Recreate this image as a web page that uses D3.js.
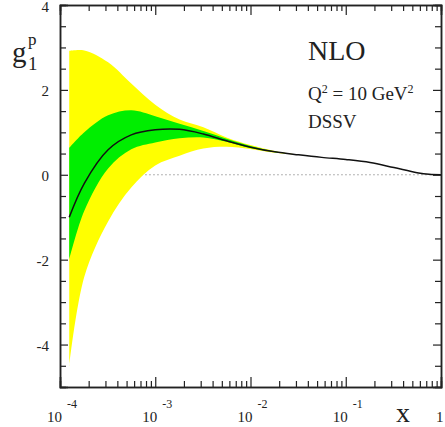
<!DOCTYPE html>
<html>
<head>
<meta charset="utf-8">
<script src="https://cdn.jsdelivr.net/npm/d3@7"></script>
<style>
  body { margin: 0; background: #fff; }
  svg text { font-family: "Liberation Serif", "DejaVu Serif", serif; fill: #222; }
</style>
</head>
<body>
<svg id="chart"></svg>
<script>
const bandX   = [1.25e-4, 1.8e-4, 3.2e-4, 5.6e-4, 1e-3, 1.8e-3, 3.2e-3, 5.6e-3, 1e-2, 1.8e-2, 3.2e-2];
const yellowHi = [2.92, 2.93, 2.65, 2.15, 1.65, 1.30, 1.12, 0.88, 0.70, 0.56, 0.47];
const greenHi  = [0.63, 1.00, 1.40, 1.52, 1.38, 1.20, 1.03, 0.85, 0.68, 0.55, 0.47];
const greenLo  = [-2.00, -0.85, 0.15, 0.60, 0.76, 0.86, 0.88, 0.78, 0.63, 0.53, 0.47];
const yellowLo = [-4.50, -2.40, -1.10, -0.30, 0.22, 0.45, 0.62, 0.66, 0.61, 0.52, 0.47];

// central DSSV curve
const curveX = [1.25e-4, 1.8e-4, 3.2e-4, 5.6e-4, 1e-3, 1.8e-3, 3.2e-3, 5.6e-3, 1e-2, 1.8e-2, 3.2e-2, 5.6e-2, 0.1, 0.18, 0.32, 0.56, 0.75, 1];
const central = [-1.00, -0.20, 0.59, 0.94, 1.06, 1.07, 0.96, 0.80, 0.65, 0.54, 0.47, 0.41, 0.36, 0.29, 0.17, 0.05, 0.01, 0.0];

const yMajor = [-4, -2, 0, 2, 4];
const yMinor = [-4.5, -3.5, -3, -2.5, -1.5, -1, -0.5, 0.5, 1, 1.5, 2.5, 3, 3.5];
const xMajor = [1e-4, 1e-3, 1e-2, 1e-1, 1];
const xExp = ['-4', '-3', '-2', '-1', ''];

const W = 445, H = 427;
const margin = { top: 5, right: 4, bottom: 40, left: 60 };

const svg = d3.select('#chart').attr('width', W).attr('height', H);

const x = d3.scaleLog().domain([1e-4, 1]).range([margin.left, W - margin.right]);
const y = d3.scaleLinear().domain([-5, 4]).range([H - margin.bottom, margin.top]);

// minor x ticks 2..9 per decade
const xMinor = [];
for (let e = -4; e < 0; e++) for (let m = 2; m <= 9; m++) xMinor.push(m * Math.pow(10, e));

//zero line (dotted)
svg.append('line')
  .attr('x1', x(bandX[0])).attr('x2', x(1))
  .attr('y1', y(0)).attr('y2', y(0))
  .attr('stroke', '#999').attr('stroke-width', 1).attr('stroke-dasharray', '1.5,2.5');

// bands
const bandData = bandX.map((d, i) => ({ x: d, yl: yellowLo[i], yh: yellowHi[i], gl: greenLo[i], gh: greenHi[i] }));
const yellowArea = d3.area().x(d => x(d.x)).y0(d => y(d.yl)).y1(d => y(d.yh)).curve(d3.curveCatmullRom);
const greenArea = d3.area().x(d => x(d.x)).y0(d => y(d.gl)).y1(d => y(d.gh)).curve(d3.curveCatmullRom);
svg.append('path').attr('d', yellowArea(bandData)).attr('fill', '#ffff00');
svg.append('path').attr('d', greenArea(bandData)).attr('fill', '#00ee00');

// central line
const lineGen = d3.line().x(d => x(d[0])).y(d => y(d[1])).curve(d3.curveCatmullRom);
svg.append('path').attr('d', lineGen(curveX.map((d, i) => [d, central[i]])))
  .attr('fill', 'none').attr('stroke', '#111').attr('stroke-width', 1.5);

// axes - ticks all point inward
const xL = x.range()[0], xR = x.range()[1], yT = y.range()[1], yB = y.range()[0];

svg.append('g').attr('transform', `translate(${xL},0)`)
  .call(d3.axisLeft(y).tickValues(yMinor).tickSize(-6).tickFormat(''));
const ylMajor = svg.append('g').attr('transform', `translate(${xL},0)`)
  .call(d3.axisLeft(y).tickValues(yMajor).tickSize(-8).tickPadding(11).tickFormat(d => d));
ylMajor.selectAll('text').style('font-size', '15px').attr('dy', '0.4em');

svg.append('g').attr('transform', `translate(${xR},0)`)
  .call(d3.axisRight(y).tickValues(yMinor).tickSize(-6).tickFormat(''));
svg.append('g').attr('transform', `translate(${xR},0)`)
  .call(d3.axisRight(y).tickValues(yMajor).tickSize(-8).tickFormat(''));

svg.append('g').attr('transform', `translate(0,${yB})`)
  .call(d3.axisBottom(x).tickValues(xMinor).tickSize(-6).tickFormat(''));
svg.append('g').attr('transform', `translate(0,${yB})`)
  .call(d3.axisBottom(x).tickValues(xMajor).tickSize(-10).tickFormat(''));

svg.append('g').attr('transform', `translate(0,${yT})`)
  .call(d3.axisTop(x).tickValues(xMinor).tickSize(-6).tickFormat(''));
svg.append('g').attr('transform', `translate(0,${yT})`)
  .call(d3.axisTop(x).tickValues(xMajor).tickSize(-10).tickFormat(''));

svg.selectAll('.domain').attr('stroke', '#222').attr('stroke-width', 1.5);
svg.selectAll('.tick line').attr('stroke', '#222').attr('stroke-width', 1.2);

// x tick labels 10^n
xMajor.forEach((v, i) => {
  const t = svg.append('text').attr('y', 422).style('font-size', '15px');
  if (xExp[i] === '') {
    t.attr('x', x(v) - 5).text('1');
  } else {
    t.attr('x', x(v) - 13).text('10');
    t.append('tspan').attr('dx', 5).attr('dy', -14).style('font-size', '12px').text(xExp[i]);
  }
});

// axis titles
svg.append('text').attr('x', 396).attr('y', 422).style('font-size', '28px').text('x');
svg.append('text').attr('x', 12).attr('y', 62).style('font-size', '29px').text('g');
svg.append('text').attr('x', 28).attr('y', 45).style('font-size', '17px').text('p');
svg.append('text').attr('x', 28).attr('y', 70).style('font-size', '19px').text('1');

// annotations
svg.append('text').attr('x', 308).attr('y', 60).style('font-size', '28px').text('NLO');
const q = svg.append('text').attr('x', 308).attr('y', 100).style('font-size', '19px');
q.append('tspan').text('Q');
q.append('tspan').attr('dy', -7).style('font-size', '12px').text('2');
q.append('tspan').attr('dy', 7).text(' = 10 GeV');
q.append('tspan').attr('dy', -7).style('font-size', '12px').text('2');
svg.append('text').attr('x', 308).attr('y', 128).style('font-size', '19px').text('DSSV');
</script>
</body>
</html>
